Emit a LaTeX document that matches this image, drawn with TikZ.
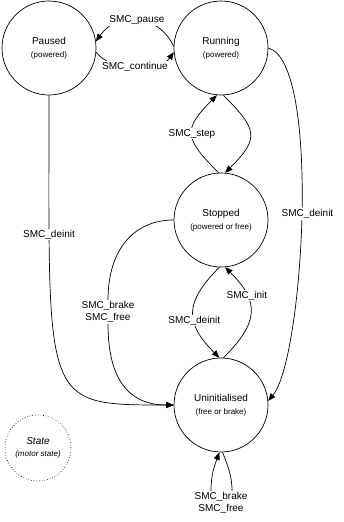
\documentclass[tikz,border=0pt]{standalone}
\usepackage{fontspec}
\setmainfont{Liberation Sans}
\usetikzlibrary{arrows.meta}
\newcommand{\statenote}[1]{{\fontsize{8}{9}\selectfont #1}}

\begin{document}
\begin{tikzpicture}[x=1pt,y=1pt,
    font=\fontsize{10}{12.5}\selectfont,
    phase/.style={circle,draw,line width=0.7pt,minimum size=94pt,inner sep=0pt,align=center},
    trans/.style={line width=0.7pt,-{Triangle[length=7.5pt,width=6pt]}},
    lbl/.style={fill=white,inner sep=1pt,align=center}]

\useasboundingbox (0,0) rectangle (343,-522);

\node[phase] (paused) at (49,-48) {Paused\\\statenote{(powered)}};
\node[phase] (running) at (221,-48) {Running\\\statenote{(powered)}};
\node[phase] (stopped) at (221,-220) {Stopped\\\statenote{(powered or free)}};
\node[phase] (uninit) at (221,-405) {Uninitialised\\\statenote{(free or brake)}};
\node[phase,dotted,line width=0.6pt,minimum size=66pt] (legend) at (38,-448) {\textit{State}\\\statenote{\textit{(motor state)}}};

\draw[trans] (running.178) to[out=115,in=55,looseness=1.2] node[lbl] {SMC\_pause} (paused.8);
\draw[trans] (paused.-5) to[out=-55,in=-125,looseness=0.8] node[lbl] {SMC\_continue} (running.185);

\draw[trans] (stopped.93) to[out=135,in=-135,looseness=1.6] node[lbl] {SMC\_step} (running.-95);
\draw[trans] (running.-87) to[out=-45,in=45,looseness=1.6] (stopped.85);

\draw[trans] (stopped.-92) to[out=-135,in=135,looseness=1.4] node[lbl,pos=0.6] {SMC\_deinit} (uninit.92);
\draw[trans] (uninit.87) to[out=45,in=-45,looseness=1.4] node[lbl,pos=0.7] {SMC\_init} (stopped.-85);

\draw[trans] (paused.south) to[out=-90,in=180,out distance=310pt,in distance=133pt] node[lbl,pos=0.18] {SMC\_deinit} (uninit.west);
\draw[trans] (running.east) to[out=-15,in=50,out distance=55pt,in distance=55pt] node[lbl,xshift=6pt] {SMC\_deinit} (uninit.5);

\node[lbl] (brakefree) at (108,-312) {SMC\_brake\\SMC\_free};
\draw[line width=0.7pt] (stopped.west) to[out=180,in=90,out distance=40pt,in distance=50pt] (brakefree.north);
\draw[trans] (brakefree.south) to[out=-90,in=180,out distance=55pt,in distance=45pt] (uninit.west);

\node[lbl] (selfloop) at (221,-503) {SMC\_brake\\SMC\_free};
\draw[line width=0.7pt] (uninit.-88) to[out=-70,in=90] ([xshift=11pt]selfloop.north);
\draw[trans] ([xshift=-10pt]selfloop.north) to[out=90,in=-110] (uninit.-92);

\end{tikzpicture}
\end{document}
